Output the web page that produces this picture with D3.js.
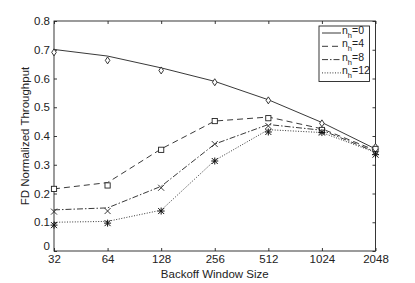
<!DOCTYPE html>
<html><head><meta charset="utf-8">
<script src="https://cdn.jsdelivr.net/npm/d3@7"></script>
<style>body{margin:0;background:#fff}text{font-family:"Liberation Sans",Arial,sans-serif;fill:#222}</style>
</head><body><svg id="c" width="415" height="283"></svg>
<script>
const windowSizes = [32, 64, 128, 256, 512, 1024, 2048];
const yTicks = [0, 0.1, 0.2, 0.3, 0.4, 0.5, 0.6, 0.7, 0.8];
const seriesNames = ["0", "4", "8", "12"];
// analytic model curves (lines)
const model0  = [0.701, 0.678, 0.637, 0.590, 0.526, 0.447, 0.355];
const model4  = [0.216, 0.238, 0.355, 0.452, 0.466, 0.425, 0.350];
const model8  = [0.143, 0.150, 0.225, 0.372, 0.440, 0.420, 0.345];
const model12 = [0.100, 0.103, 0.142, 0.315, 0.422, 0.412, 0.343];
// simulation points (markers)
const sim0  = [0.691, 0.663, 0.628, 0.587, 0.524, 0.444, 0.362];
const sim4  = [0.216, 0.228, 0.352, 0.452, 0.462, 0.421, 0.355];
const sim8  = [0.137, 0.139, 0.220, 0.372, 0.435, 0.415, 0.345];
const sim12 = [0.090, 0.097, 0.139, 0.313, 0.414, 0.412, 0.335];

const models = [model0, model4, model8, model12];
const sims = [sim0, sim4, sim8, sim12];
const dashes = ["none", "6,4", "6,2,1.5,2", "1,1.6"];
const markers = ["diamond", "square", "x", "star"];

const svg = d3.select("#c");
const L = 54, R = 375.5, T = 21, B = 251;
const x = d3.scalePoint().domain(windowSizes).range([L, R]);
const y = d3.scaleLinear().domain([0, 0.8]).range([B, T]);
const FS = 11.5;

// box
svg.append("rect").attr("x", L).attr("y", T).attr("width", R - L).attr("height", B - T)
  .attr("fill", "none").attr("stroke", "#222").attr("stroke-width", 0.9);

// axes with inward ticks
const xb = svg.append("g").attr("transform", `translate(0,${B})`)
  .call(d3.axisBottom(x).tickSize(-3).tickPadding(4));
const xt = svg.append("g").attr("transform", `translate(0,${T})`)
  .call(d3.axisTop(x).tickSize(-3).tickFormat(""));
const yl = svg.append("g").attr("transform", `translate(${L},0)`)
  .call(d3.axisLeft(y).tickValues(yTicks).tickSize(-3).tickPadding(4).tickFormat(d => d === 0 ? "0" : d3.format(".1f")(d)));
const yr = svg.append("g").attr("transform", `translate(${R},0)`)
  .call(d3.axisRight(y).tickValues(yTicks).tickSize(-3).tickFormat(""));
[xb, xt, yl, yr].forEach(g => {
  g.select(".domain").remove();
  g.selectAll("line").attr("stroke", "#222").attr("stroke-width", 0.9);
  g.selectAll("text").attr("font-size", FS).attr("fill", "#222").style("font-family", '"Liberation Sans",Arial,sans-serif');
});
xb.selectAll("text").attr("font-size", 11.5);
yl.selectAll(".tick").filter(d => d === 0).select("text").attr("dy", "-0.15em");

// axis titles
svg.append("text").attr("x", (L + R) / 2).attr("y", 278).attr("text-anchor", "middle")
  .attr("font-size", FS).text("Backoff Window Size");
svg.append("text").attr("transform", `translate(29,${(T + B) / 2}) rotate(-90)`)
  .attr("text-anchor", "middle").attr("font-size", FS).text("FD Normalized Throughput");

// lines
const line = d3.line().x((d, i) => x(windowSizes[i])).y(d => y(d));
models.forEach((m, k) => {
  svg.append("path").datum(m).attr("d", line).attr("fill", "none")
    .attr("stroke", "#222").attr("stroke-width", 0.9).attr("stroke-dasharray", dashes[k]);
});

// markers
function drawMarker(g, type, cx, cy) {
  const s = 3;
  if (type === "diamond") {
    g.append("path").attr("d", `M${cx},${cy - s - 0.5}L${cx + s - 0.7},${cy}L${cx},${cy + s + 0.5}L${cx - s + 0.7},${cy}Z`)
      .attr("fill", "#fff").attr("stroke", "#222").attr("stroke-width", 0.9);
  } else if (type === "square") {
    g.append("rect").attr("x", cx - 2.6).attr("y", cy - 2.6).attr("width", 5.2).attr("height", 5.2)
      .attr("fill", "#fff").attr("stroke", "#222").attr("stroke-width", 0.9);
  } else if (type === "x") {
    g.append("path").attr("d", `M${cx - s},${cy - s}L${cx + s},${cy + s}M${cx - s},${cy + s}L${cx + s},${cy - s}`)
      .attr("stroke", "#222").attr("stroke-width", 0.9);
  } else {
    g.append("path").attr("d", `M${cx - s},${cy - s}L${cx + s},${cy + s}M${cx - s},${cy + s}L${cx + s},${cy - s}M${cx},${cy - s - 0.5}L${cx},${cy + s + 0.5}M${cx - s - 0.5},${cy}L${cx + s + 0.5},${cy}`)
      .attr("stroke", "#111").attr("stroke-width", 1);
  }
}
sims.forEach((sv, k) => {
  const g = svg.append("g");
  sv.forEach((v, i) => drawMarker(g, markers[k], x(windowSizes[i]), y(v)));
});

// legend
const lg = svg.append("g");
lg.append("rect").attr("x", 319).attr("y", 26).attr("width", 50.5).attr("height", 55.5)
  .attr("fill", "#fff").attr("stroke", "#222").attr("stroke-width", 0.9);
seriesNames.forEach((n, k) => {
  const yy = 33 + k * 13.3;
  lg.append("line").attr("x1", 322).attr("x2", 341).attr("y1", yy).attr("y2", yy)
    .attr("stroke", "#222").attr("stroke-width", 0.9).attr("stroke-dasharray", dashes[k]);
  const t = lg.append("text").attr("x", 342).attr("y", yy + 1).attr("font-size", 10.5);
  t.append("tspan").text("n");
  t.append("tspan").attr("font-size", 7.5).attr("dy", 4).text("h");
  t.append("tspan").attr("dy", -4).text("=" + n);
});
</script></body></html>
